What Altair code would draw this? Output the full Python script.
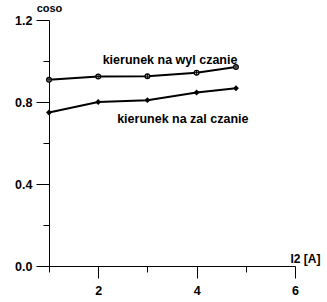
import altair as alt
import pandas as pd

x_vals = [1, 2, 3, 4, 4.8]
wyl = [0.908, 0.924, 0.926, 0.943, 0.971]
zal = [0.749, 0.800, 0.809, 0.846, 0.867]
x_ticks = [1, 2, 3, 4, 5, 6]
y_ticks = [0, 0.2, 0.4, 0.6, 0.8, 1.0, 1.2]
label_texts = ["kierunek na wyl czanie", "kierunek na zal czanie"]
label_x = [3.46, 3.72]
label_y = [1.005, 0.718]

FONT = "Liberation Sans"

df_wyl = pd.DataFrame({"x": x_vals, "y": wyl})
df_zal = pd.DataFrame({"x": x_vals, "y": zal})
df_lab = pd.DataFrame({"x": label_x, "y": label_y, "t": label_texts})

x_axis = alt.Axis(
    values=x_ticks,
    labelExpr="datum.value % 2 == 0 ? datum.label : ''",
    tickSize={"condition": {"test": "datum.value % 2 == 0", "value": 12}, "value": 6},
    labelPadding=6,
    grid=False,
    title="I2 [A]",
    titleX=241,
    titleY=-8,
    titleAlign="left",
    titleBaseline="middle",
    titleFontSize=12,
    titleFont=FONT,
    titleFontWeight="bold",
    labelFontSize=12.5,
    labelFont=FONT,
    labelFontWeight="bold",
    labelColor="black",
    labelFlush=False,
)
y_axis = alt.Axis(
    values=y_ticks,
    labelExpr="round(datum.value*10) % 4 == 0 ? format(datum.value, '.1f') : ''",
    tickSize={"condition": {"test": "round(datum.value*10) % 4 == 0", "value": 13}, "value": 6},
    labelPadding=4,
    grid=False,
    title="coso",
    titleAngle=0,
    titleX=0,
    titleY=-12,
    titleAlign="center",
    titleBaseline="middle",
    titleFontSize=11,
    titleFont=FONT,
    titleFontWeight="bold",
    labelFontSize=12.5,
    labelFont=FONT,
    labelFontWeight="bold",
    labelColor="black",
    labelFlush=False,
)

X = alt.X("x:Q", scale=alt.Scale(domain=[1, 6], nice=False, zero=False), axis=x_axis)
Y = alt.Y("y:Q", scale=alt.Scale(domain=[0, 1.2], nice=False), axis=y_axis)

line_wyl = alt.Chart(df_wyl).mark_line(color="black", strokeWidth=2).encode(x=X, y=Y)
pt_wyl = alt.Chart(df_wyl).mark_point(shape="circle", filled=True, fill="white", stroke="black", size=22, strokeWidth=1.3, opacity=1).encode(x=X, y=Y)
pt_wyl_cross = alt.Chart(df_wyl).mark_point(shape="M-1,0L1,0M0,-1L0,1", filled=False, stroke="black", size=22, strokeWidth=1, opacity=1).encode(x=X, y=Y)
line_zal = alt.Chart(df_zal).mark_line(color="black", strokeWidth=2).encode(x=X, y=Y)
pt_zal = alt.Chart(df_zal).mark_point(shape="diamond", filled=True, color="black", size=35, opacity=1).encode(x=X, y=Y)
labels = alt.Chart(df_lab).mark_text(font=FONT, fontWeight="bold", fontSize=12.5, color="black", align="center", baseline="middle").encode(x=X, y=Y, text="t:N")

chart = alt.layer(line_wyl, line_zal, pt_wyl, pt_wyl_cross, pt_zal, labels).properties(
    width=246,
    height=246,
    autosize=alt.AutoSizeParams(type="none"),
    padding={"left": 49, "top": 20, "right": 32, "bottom": 36},
    background="white",
).configure_view(stroke=None).configure_axis(
    domainColor="black", tickColor="black", domainWidth=1, tickWidth=1
)

chart.save("out.html", embed_options={"renderer": "svg", "actions": False})
